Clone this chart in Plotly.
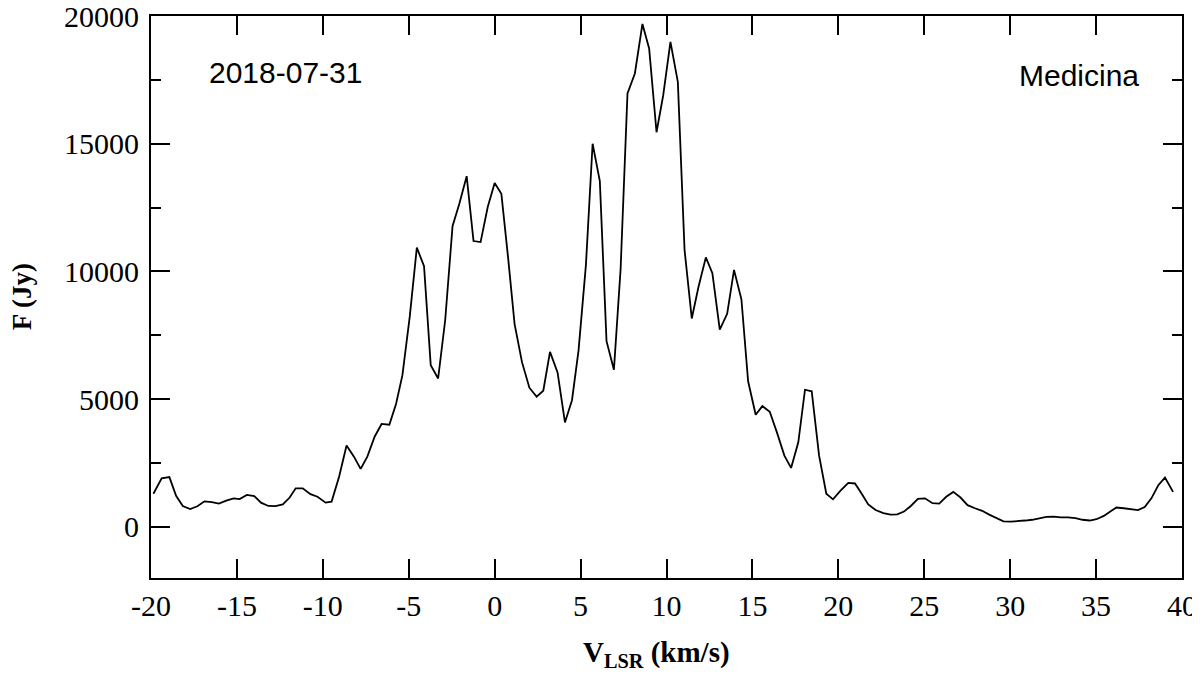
import plotly.graph_objects as go

# velocity channels (km/s) and flux density (Jy)
vlsr = [
    -19.86, -19.38, -18.93, -18.54, -18.15, -17.72, -17.30, -16.89, -16.46, -16.05,
    -15.62, -15.19, -14.84, -14.42, -13.99, -13.60, -13.17, -12.76, -12.33, -11.93,
    -11.58, -11.17, -10.72, -10.31, -9.84, -9.49, -9.05, -8.62, -8.19, -7.80,
    -7.41, -6.98, -6.58, -6.13, -5.74, -5.37, -4.94, -4.53, -4.11, -3.72,
    -3.29, -2.88, -2.45, -2.06, -1.63, -1.23, -0.82, -0.40, 0.00,
    0.39, 0.78, 1.16, 1.59, 2.02, 2.44, 2.83, 3.22, 3.66, 4.09,
    4.50, 4.88, 5.31, 5.70, 6.12, 6.51, 6.94, 7.33, 7.73, 8.16,
    8.60, 8.99, 9.42, 9.81, 10.23, 10.66, 11.05, 11.47, 11.86, 12.29,
    12.67, 13.10, 13.53, 13.93, 14.36, 14.75, 15.19, 15.58, 16.01, 16.43,
    16.86, 17.25, 17.67, 18.06, 18.45, 18.88, 19.30, 19.69,
    20.10, 20.58, 20.97, 21.36, 21.74, 22.17, 22.62, 23.04, 23.43, 23.82,
    24.22, 24.63, 25.04, 25.48, 25.87, 26.28, 26.69, 27.11, 27.52, 27.95,
    28.37, 28.78, 29.21, 29.61, 30.04, 30.47, 30.87, 31.28, 31.69, 32.11,
    32.54, 32.95, 33.37, 33.80, 34.21, 34.63, 35.02, 35.45, 35.85, 36.18,
    36.61, 37.05, 37.44, 37.83, 38.22, 38.62, 39.01, 39.48,
]
flux = [
    1300, 1900, 1950, 1220, 820, 700, 810, 1000, 970, 910,
    1030, 1120, 1090, 1250, 1210, 950, 820, 810, 880, 1150,
    1510, 1510, 1280, 1180, 950, 990, 1970, 3190, 2750, 2270,
    2750, 3540, 4030, 4000, 4810, 5930, 8240, 10930, 10210, 6330,
    5810, 8090, 11780, 12640, 13730, 11190, 11150, 12530, 13460,
    13040, 10550, 7940, 6450, 5450, 5100, 5330, 6850, 6050, 4090,
    4960, 6900, 10250, 15000, 13540, 7270, 6150, 10100, 16970, 17750,
    19690, 18730, 15450, 16900, 18990, 17420, 10850, 8160, 9390, 10550,
    9930, 7720, 8340, 10060, 8910, 5700, 4390, 4730, 4510, 3690,
    2790, 2310, 3310, 5370, 5310, 2790, 1300, 1080,
    1400, 1720, 1700, 1300, 880, 660, 540, 480, 490, 600,
    820, 1100, 1120, 930, 910, 1180, 1370, 1150, 850, 730,
    630, 480, 330, 220, 210, 220, 250, 280, 340, 390,
    400, 370, 370, 340, 280, 250, 300, 430, 610, 760,
    730, 690, 660, 780, 1120, 1630, 1930, 1370,
]

x_ticks = [-20, -15, -10, -5, 0, 5, 10, 15, 20, 25, 30, 35, 40]
x_ticktext = ["-20", "-15", "-10", "-5", "0", "5", "10", "15", "20", "25", "30", "35", "40"]
y_ticks = [0, 5000, 10000, 15000, 20000]
y_ticktext = ["0", "5000", "10000", "15000", "20000"]

date_label = "2018-07-31"
station = "Medicina"

serif = "Liberation Serif, Times New Roman, serif"
sans = "Liberation Sans, Arial, sans-serif"

fig = go.Figure()
fig.add_trace(
    go.Scatter(
        x=vlsr, y=flux, mode="lines",
        line=dict(color="black", width=1.8),
        showlegend=False,
    )
)

axis_common = dict(
    showline=True, linecolor="black", linewidth=2,
    mirror="allticks", ticks="inside", ticklen=19, tickwidth=2, tickcolor="black",
    showgrid=False, zeroline=False, automargin=False, ticklabeloverflow="allow",
    tickfont=dict(family=serif, size=30, color="black"),
)

# page body adds an 8px offset, so the figure is a bit smaller than the window
fig.update_layout(
    width=1192, height=666,
    paper_bgcolor="white", plot_bgcolor="white",
    margin=dict(l=143, r=18, t=8, b=96),
    xaxis=dict(range=[-20, 40], tickmode="array", tickvals=x_ticks, ticktext=x_ticktext,
               ticklabelstandoff=0, **axis_common),
    yaxis=dict(
        range=[-2000, 20000], tickmode="array", tickvals=y_ticks, ticktext=y_ticktext,
        minor=dict(tickmode="linear", tick0=0, dtick=2500, ticklen=10, tickwidth=2,
                   tickcolor="black", ticks="inside"),
        ticklabelstandoff=4,
        **axis_common,
    ),
    annotations=[
        dict(text="<b>V<sub>LSR</sub> (km/s)</b>", xref="paper", yref="paper",
             x=0.49, y=-0.135, xanchor="center", yanchor="middle", showarrow=False,
             font=dict(family=serif, size=29, color="black")),
        dict(text="<b>F (Jy)</b>", xref="paper", yref="paper",
             x=-0.125, y=0.5, xanchor="center", yanchor="middle", textangle=-90,
             showarrow=False, font=dict(family=serif, size=27, color="black")),
        dict(text=date_label, xref="paper", yref="paper",
             x=0.054, y=0.90, xanchor="left", yanchor="middle", showarrow=False,
             font=dict(family=sans, size=30, color="black")),
        dict(text=station, xref="paper", yref="paper",
             x=0.960, y=0.895, xanchor="right", yanchor="middle", showarrow=False,
             font=dict(family=sans, size=30, color="black")),
    ],
)

fig.write_html("out.html")
